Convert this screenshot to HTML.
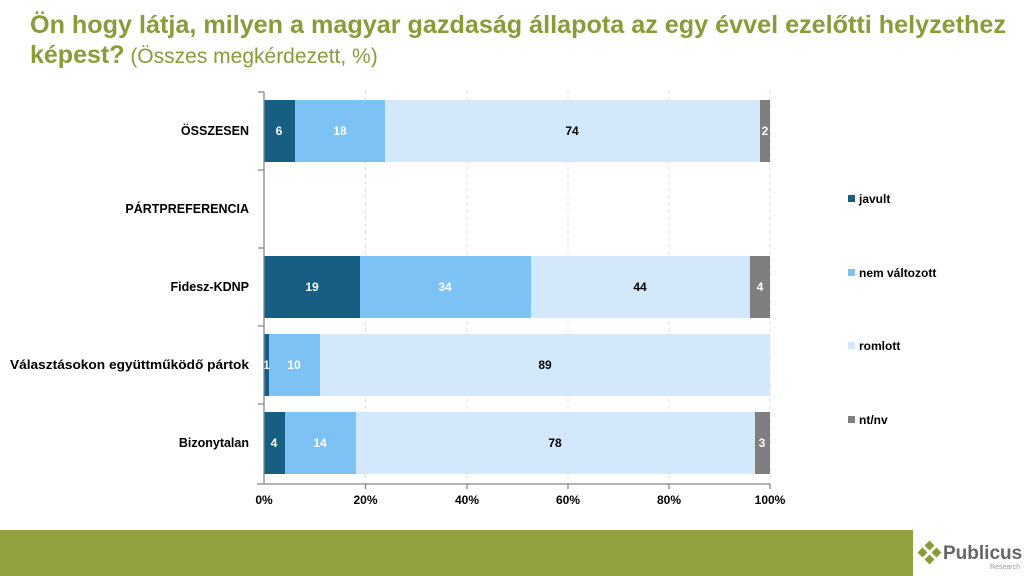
<!DOCTYPE html>
<html><head><meta charset="utf-8"><style>
body{margin:0;width:1024px;height:576px;overflow:hidden;background:#fff;font-family:"Liberation Sans",sans-serif}
</style></head><body>
<svg width="1024" height="576" xmlns="http://www.w3.org/2000/svg" style="position:absolute;left:0;top:0">
<text x="30" y="33" font-family="Liberation Sans" font-weight="bold" font-size="25" fill="#8a9b3a" textLength="976" lengthAdjust="spacingAndGlyphs">Ön hogy látja, milyen a magyar gazdaság állapota az egy évvel ezelőtti helyzethez</text>
<text x="30" y="63" font-family="Liberation Sans" font-size="25" fill="#8a9b3a"><tspan font-weight="bold">képest?</tspan><tspan font-size="21"> (Összes megkérdezett, %)</tspan></text>
<g stroke="#e2e2e2" stroke-dasharray="4,3" stroke-width="1">
<line x1="365.5" y1="90" x2="365.5" y2="484"/><line x1="467" y1="90" x2="467" y2="484"/><line x1="568" y1="90" x2="568" y2="484"/><line x1="669" y1="90" x2="669" y2="484"/><line x1="770" y1="90" x2="770" y2="484"/>
</g>
<g font-family="Liberation Sans" font-weight="bold" font-size="12" text-anchor="middle">
<rect x="264" y="100" width="31" height="62" fill="#165e82"/><rect x="295" y="100" width="90" height="62" fill="#7cc2f4"/><rect x="385" y="100" width="375" height="62" fill="#d3e8fb"/><rect x="760" y="100" width="10" height="62" fill="#7f7f7f"/>
<text x="279" y="135" fill="#fff">6</text><text x="340" y="135" fill="#fff">18</text><text x="572" y="135" fill="#000">74</text><text x="765" y="135" fill="#fff">2</text>
<rect x="264" y="256" width="96" height="62" fill="#165e82"/><rect x="360" y="256" width="171" height="62" fill="#7cc2f4"/><rect x="531" y="256" width="219" height="62" fill="#d3e8fb"/><rect x="750" y="256" width="20" height="62" fill="#7f7f7f"/>
<text x="312" y="291" fill="#fff">19</text><text x="445" y="291" fill="#fff">34</text><text x="640" y="291" fill="#000">44</text><text x="760" y="291" fill="#fff">4</text>
<rect x="264" y="334" width="5" height="62" fill="#165e82"/><rect x="269" y="334" width="51" height="62" fill="#7cc2f4"/><rect x="320" y="334" width="450" height="62" fill="#d3e8fb"/>
<text x="266.5" y="369" fill="#fff">1</text><text x="294" y="369" fill="#fff">10</text><text x="545" y="369" fill="#000">89</text>
<rect x="264" y="412" width="21" height="62" fill="#165e82"/><rect x="285" y="412" width="71" height="62" fill="#7cc2f4"/><rect x="356" y="412" width="399" height="62" fill="#d3e8fb"/><rect x="755" y="412" width="15" height="62" fill="#7f7f7f"/>
<text x="274" y="447" fill="#fff">4</text><text x="320" y="447" fill="#fff">14</text><text x="555" y="447" fill="#000">78</text><text x="762" y="447" fill="#fff">3</text>
</g>
<g stroke="#888" stroke-width="1.3">
<line x1="264" y1="92" x2="264" y2="484"/><line x1="257" y1="484" x2="770" y2="484"/>
<line x1="258" y1="92" x2="264" y2="92"/><line x1="258" y1="170" x2="264" y2="170"/><line x1="258" y1="248" x2="264" y2="248"/><line x1="258" y1="326" x2="264" y2="326"/><line x1="258" y1="404" x2="264" y2="404"/>
<line x1="365.5" y1="484" x2="365.5" y2="489"/><line x1="467" y1="484" x2="467" y2="489"/><line x1="568" y1="484" x2="568" y2="489"/><line x1="669" y1="484" x2="669" y2="489"/><line x1="770" y1="484" x2="770" y2="489"/>
</g>
<g font-family="Liberation Sans" font-weight="bold" font-size="12.5" fill="#000" text-anchor="end">
<text x="249" y="135">ÖSSZESEN</text><text x="249" y="213">PÁRTPREFERENCIA</text><text x="249" y="291">Fidesz-KDNP</text><text x="249" y="369" textLength="239" lengthAdjust="spacingAndGlyphs">Választásokon együttműködő pártok</text><text x="249" y="447">Bizonytalan</text>
</g>
<g font-family="Liberation Sans" font-weight="bold" font-size="12" fill="#000" text-anchor="middle">
<text x="264" y="504">0%</text><text x="365.5" y="504">20%</text><text x="467" y="504">40%</text><text x="568" y="504">60%</text><text x="669" y="504">80%</text><text x="770" y="504">100%</text>
</g>
<g font-family="Liberation Sans" font-weight="bold" font-size="12" fill="#000">
<rect x="848" y="195" width="7" height="7" fill="#165e82"/><text x="859" y="203">javult</text>
<rect x="848" y="269" width="7" height="7" fill="#7cc2f4"/><text x="859" y="277">nem változott</text>
<rect x="848" y="342" width="7" height="7" fill="#d3e8fb"/><text x="859" y="350">romlott</text>
<rect x="848" y="416" width="7" height="7" fill="#7f7f7f"/><text x="859" y="424">nt/nv</text>
</g>
<rect x="0" y="530" width="913" height="46" fill="#93a03e"/>
<g fill="#8a9b3a">
<rect x="926" y="542" width="7" height="7" transform="rotate(45 929.5 545.5)"/>
<rect x="919" y="549" width="7" height="7" transform="rotate(45 922.5 552.5)"/>
<rect x="933" y="549" width="7" height="7" transform="rotate(45 936.5 552.5)"/>
<rect x="926" y="556" width="7" height="7" transform="rotate(45 929.5 559.5)"/>
</g>
<text x="943" y="559" font-family="Liberation Sans" font-weight="bold" font-size="19" fill="#666">Publicus</text>
<text x="1020" y="569" font-family="Liberation Sans" font-size="7" fill="#999" text-anchor="end">Research</text>
</svg>
</body></html>
